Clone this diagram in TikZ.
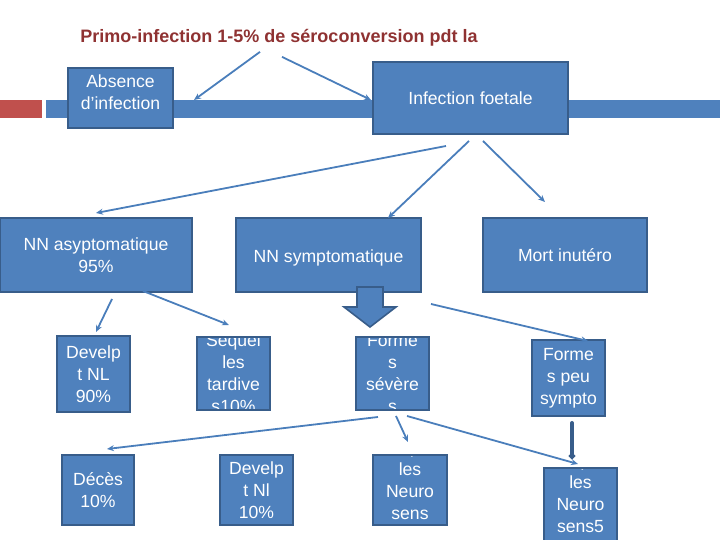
\documentclass[tikz,border=0pt]{standalone}
\usepackage{fontspec}
\setmainfont{Liberation Sans}
\usetikzlibrary{arrows.meta, calc}
\definecolor{boxBlue}{HTML}{4F81BD}
\definecolor{boxLine}{HTML}{385D8A}
\definecolor{linkBlue}{HTML}{4A7EBB}
\definecolor{titleRed}{HTML}{8F3232}
\definecolor{barRed}{HTML}{C0504D}
\tikzset{
  font=\fontsize{8.8}{11}\selectfont,
  stage/.style={rectangle, draw=boxLine, line width=1pt, fill=boxBlue, inner sep=0pt},
  stagetext/.style={text=white, align=center, inner sep=0pt},
  link/.style={-{Stealth[length=3.5pt,width=3pt]}, draw=linkBlue, line width=0.9pt},
  thicklink/.style={-{Circle[length=3pt]}, draw=boxLine, line width=2pt, line cap=round},
  headline/.style={font=\bfseries\fontsize{9}{11}\selectfont, text=titleRed, inner sep=0pt},
}

\begin{document}
\begin{tikzpicture}[x=0.5pt, y=-0.5pt]
\useasboundingbox (0,0) rectangle (720,540);

% #1 = name, #2..#5 = left, top, right, bottom (px), #6 = text shift, #7 = text
\newcommand{\stagebox}[7]{%
  \node[stage, minimum width={(#4-#2)*0.5pt}, minimum height={(#5-#3)*0.5pt},
        path picture={\node[stagetext] (#1-txt) at ([yshift=#6]path picture bounding box.center) {#7};}]
    (#1) at ({(#2+#4)/2}, {(#3+#5)/2}) {};
}

% --- slide bar ---
\fill[barRed]  (0,100) rectangle (42,118);
\fill[boxBlue] (46,100) rectangle (720,118);

\node[headline] (primo) at (279,38) {Primo-infection 1-5\% de séroconversion pdt la};

\stagebox{absent}{68}{68}{173}{128}{3pt}{Absence\\d’infection}
\stagebox{foetale}{373}{62}{568}{134}{0pt}{Infection foetale}

\stagebox{asym}{0}{218}{192}{292}{0pt}{NN asyptomatique\\95\%}
\stagebox{sym}{236}{218}{421}{292}{-1.5pt}{NN symptomatique}
\stagebox{mort}{483}{218}{647}{292}{0pt}{Mort inutéro}

\stagebox{dnl}{57}{336}{130}{412}{0pt}{Develp\\t NL\\90\%}
\stagebox{seqt}{197}{337}{270}{410}{0pt}{Séquel\\les\\tardive\\s10\%}
\stagebox{sev}{356}{337}{429}{410}{0pt}{Forme\\s\\sévère\\s}
\stagebox{peu}{532}{340}{605}{416}{0pt}{Forme\\s peu\\sympto}

\stagebox{deces}{62}{455}{134}{525}{0pt}{Décès\\10\%}
\stagebox{dnl2}{220}{455}{293}{525}{0pt}{Develp\\t Nl\\10\%}
\stagebox{seqn}{373}{455}{447}{525}{4.75pt}{Séquel\\les\\Neuro\\sens}
\stagebox{seqn5}{544}{468}{617}{550}{8pt}{Séquel\\les\\Neuro\\sens5}

% --- thin links ---
\draw[link] ($(primo.south)+(-19,5)$) -- ($(absent.east)+(20,2)$);
\draw[link] ($(primo.south)+(3,10)$) -- ($(foetale.west)+(-1,2)$);

\draw[link] ($(foetale.south)+(-24.5,11)$) -- ($(asym.north)+(0,-4)$);
\draw[link] ($(foetale.south)+(-1.5,6)$) -- ($(sym.north)+(59.5,1)$);
\draw[link] ($(foetale.south)+(12.5,6)$) -- ($(mort.north)+(-20,-15)$);

\draw[link] ($(asym.south)+(16,6)$) -- ($(dnl.north)+(2.5,-3)$);
\draw[link] ($(asym.south)+(47,-2)$) -- ($(seqt.north)+(-4.5,-11)$);
\draw[link] ($(sym.south east)+(9,11)$) -- ($(peu.north)+(19.5,2)$);

\draw[link] ($(sev.south)+(-14.5,6)$) -- ($(deces.north)+(9,-5)$);
\draw[link] ($(sev.south)+(3.5,5)$) -- ($(seqn.north)+(-2,-12)$);
\draw[link] ($(sev.south)+(14.5,5)$) -- ($(seqn5.north)+(-2.5,-3)$);

% --- block arrow under NN symptomatique ---
\coordinate (bigtip) at ($(sym.south)+(41.5,34)$);
\draw[boxLine, fill=boxBlue, line width=0.8pt, line join=miter]
  ($(bigtip)+(-13,-40)$) -- ($(bigtip)+(13,-40)$) -- ($(bigtip)+(13,-20)$)
  -- ($(bigtip)+(26,-20)$) -- (bigtip) -- ($(bigtip)+(-26,-20)$)
  -- ($(bigtip)+(-13,-20)$) -- cycle;

% --- thick link ---
\draw[thicklink] ($(peu.south)+(3.5,6)$) -- ($(seqn5.north)+(-8.5,-8)$);

\end{tikzpicture}
\end{document}
